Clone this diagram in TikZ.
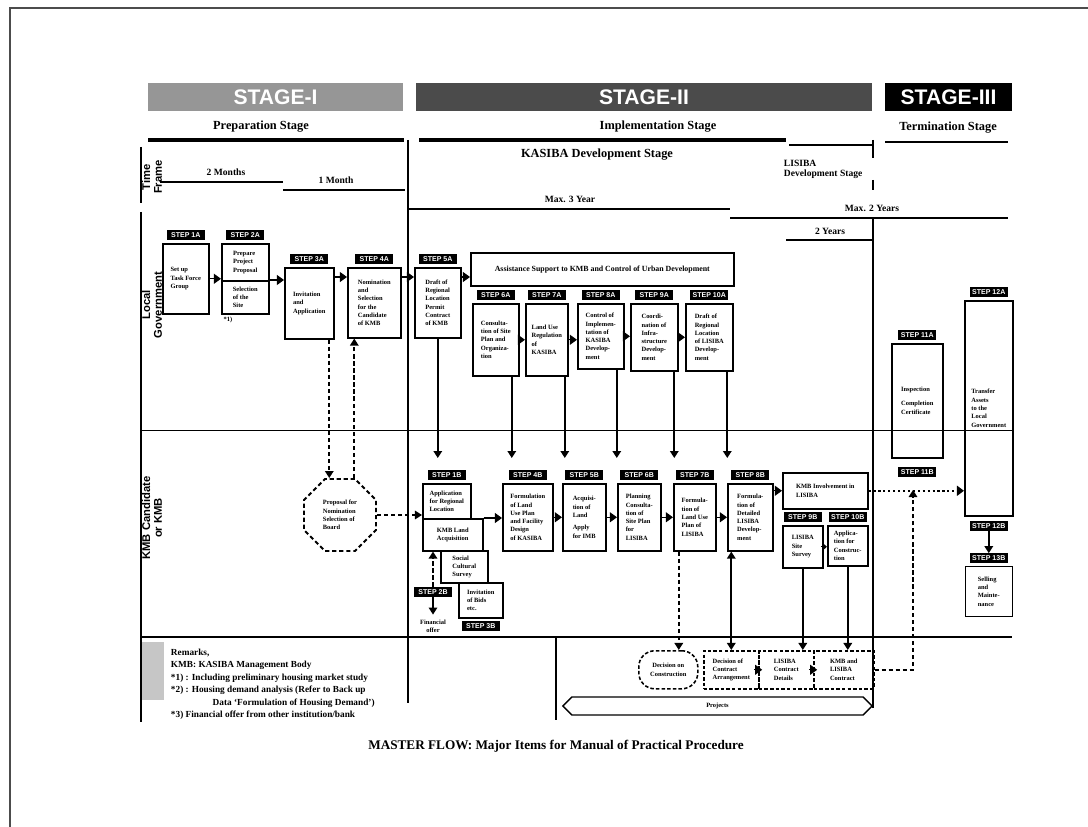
\documentclass[tikz,border=0pt]{standalone}
\usepackage{fontspec}
\setmainfont{Liberation Serif}
\setsansfont{Liberation Sans}
\usetikzlibrary{shapes.geometric,shapes.symbols,arrows.meta,positioning}
\definecolor{stagegray}{RGB}{150,150,150}
\definecolor{stagedark}{RGB}{75,75,75}
\newcommand{\boxfont}{\fontsize{4.6}{5.9}\selectfont\bfseries}
\newcommand{\tagfont}{\sffamily\fontsize{5}{5}\selectfont\bfseries}
\newcommand{\capfont}{\fontsize{8.8}{8.8}\selectfont\bfseries}
\newcommand{\timefont}{\fontsize{6.8}{7}\selectfont\bfseries}
\tikzset{
    stepbox/.style={
        rectangle,
        draw=black,
        line width=1.1pt,
        anchor=north west,
        align=left,
        inner sep=1.5pt,
        font=\boxfont
    },
    steptag/.style={
        rectangle,
        fill=black,
        text=white,
        inner sep=0.8pt,
        minimum width=0.95cm,
        minimum height=0.25cm,
        font=\tagfont
    },
    stagebar/.style={
        rectangle,
        minimum height=0.7cm,
        text=white,
        font=\sffamily\fontsize{15}{15}\selectfont\bfseries
    },
    rowlabel/.style={
        rotate=90,
        align=center,
        font=\sffamily\fontsize{8}{8.4}\selectfont\bfseries
    },
    flow/.style={
        -{Triangle[length=5pt,width=6pt]},
        line width=1.6pt
    },
    dashflow/.style={
        flow,
        dash pattern=on 3pt off 2pt
    },
    notch/.style={
        -{Triangle[length=5pt,width=7pt]},
        line width=0.8pt
    },
    timeline/.style={
        line width=1.6pt
    },
    dashbox/.style={
        stepbox,
        dash pattern=on 2.5pt off 1.5pt
    }
}

\begin{document}
\begin{tikzpicture}[x=0.025cm, y=-0.025cm, node distance=0.06cm]
\useasboundingbox (0,0) rectangle (1088,827);
\draw[line width=0.8pt, black!70] (10,827) -- (10,8) -- (1088,8);

% Stage headers
\node[stagebar, fill=stagegray, minimum width=6.375cm] (st1) at (275.5,97) {STAGE-I};
\node[stagebar, fill=stagedark, minimum width=11.4cm] (st2) at (644,97) {STAGE-II};
\node[stagebar, fill=black, minimum width=3.175cm] (st3) at (948.5,97) {STAGE-III};

\node[font=\capfont] (prep) at (261,127) {Preparation Stage};
\node[font=\capfont] (impl) at (658,127) {Implementation Stage};
\node[font=\capfont] (term) at (948,128) {Termination Stage};
\draw[line width=2.5pt] (148,140) -- (404,140);
\draw[line width=2.5pt] (419,140) -- (786,140);
\draw[line width=2pt] (789,145) -- (873,145);
\draw[line width=1.5pt] (885,142) -- (1008,142);

% Time frame
\node[font=\capfont] (kasiba) at (597,155) {KASIBA Development Stage};
\node[font=\timefont, align=left, anchor=north west] (lisiba) at (779,155) {LISIBA\\Development Stage};
\node[font=\timefont] (m2) at (226,172) {2 Months};
\draw[timeline] (160,182) -- (283,182);
\node[font=\timefont] (m1) at (336,180) {1 Month};
\draw[timeline] (283,190) -- (405,190);
\node[font=\timefont] (y3) at (570,199) {Max. 3 Year};
\draw[timeline] (409,209) -- (730,209);
\node[font=\timefont] (y2) at (872,208) {Max. 2 Years};
\draw[timeline] (730,218) -- (1008,218);
\node[font=\timefont] (ly2) at (830,231) {2 Years};
\draw[timeline] (786,240) -- (873,240);

% Dividers
\draw[line width=2pt] (408,140) -- (408,703);
\draw[line width=1.5pt] (873,140) -- (873,158);
\draw[line width=1.5pt] (873,180) -- (873,190);
\draw[line width=1.5pt] (873,218) -- (873,708);
\draw[line width=1.8pt] (556,637) -- (556,720);
\draw[line width=0.6pt] (141,430) -- (1012,430);
\draw[line width=1pt] (141,637) -- (1012,637);

% Row labels
\draw[line width=0.8pt] (141,147) -- (141,203);
\draw[line width=0.8pt] (141,212) -- (141,722);
\node[rowlabel] (tf) at (152,177) {Time\\Frame};
\node[rowlabel] (lg) at (152,305) {Local\\Government};
\node[rowlabel] (kmb) at (152,518) {KMB Candidate\\or KMB};
\node[fill=gray!45, minimum width=0.55cm, minimum height=1.45cm] (oth) at (153,671) {};

% Local Government
\node[stepbox, minimum width=1.15cm, minimum height=1.75cm] (s1a) at (162,243) {Set up\\Task Force\\Group};
\node[steptag, above=of s1a] (t1a) {STEP 1A};
\node[stepbox, minimum width=1.175cm, minimum height=0.925cm] (s2a) at (221,243) {Prepare\\Project\\Proposal};
\node[stepbox, minimum width=1.175cm, minimum height=0.825cm] (s2a-site) at (221,280) {Selection\\of the\\Site};
\node[steptag, above=of s2a] (t2a) {STEP 2A};
\node[font=\boxfont] (n1) at (228,320) {*1)};
\node[stepbox, minimum width=1.225cm, minimum height=1.775cm] (s3a) at (284,267) {Invitation\\and\\Application};
\node[steptag, above=of s3a] (t3a) {STEP 3A};
\node[stepbox, minimum width=1.325cm, minimum height=1.75cm] (s4a) at (347,267) {Nomination\\and\\Selection\\for the\\Candidate\\of KMB};
\node[steptag, above=of s4a] (t4a) {STEP 4A};
\node[stepbox, minimum width=1.15cm, minimum height=1.75cm] (s5a) at (414,267) {Draft of\\Regional\\Location\\Permit\\Contract\\of KMB};
\node[steptag, above=of s5a] (t5a) {STEP 5A};
\node[stepbox, minimum width=6.575cm, minimum height=0.825cm, font=\fontsize{5.6}{6}\selectfont\bfseries, align=center] (assist) at (470,252) {Assistance Support to KMB and Control of Urban Development};

\node[stepbox, minimum width=1.15cm, minimum height=1.8cm] (s6a) at (472,303) {Consulta-\\tion of Site\\Plan and\\Organiza-\\tion};
\node[steptag, above=of s6a] (t6a) {STEP 6A};
\node[stepbox, minimum width=1.05cm, minimum height=1.8cm] (s7a) at (525,303) {Land Use\\Regulation\\of\\KASIBA};
\node[steptag, above=of s7a] (t7a) {STEP 7A};
\node[stepbox, minimum width=1.15cm, minimum height=1.625cm] (s8a) at (577,303) {Control of\\Implemen-\\tation of\\KASIBA\\Develop-\\ment};
\node[steptag, above=of s8a] (t8a) {STEP 8A};
\node[stepbox, minimum width=1.175cm, minimum height=1.675cm] (s9a) at (630,303) {Coordi-\\nation of\\Infra-\\structure\\Develop-\\ment};
\node[steptag, above=of s9a] (t9a) {STEP 9A};
\node[stepbox, minimum width=1.175cm, minimum height=1.675cm] (s10a) at (685,303) {Draft of\\Regional\\Location\\of LISIBA\\Develop-\\ment};
\node[steptag, above=of s10a] (t10a) {STEP 10A};

\draw[notch] (s1a.east) -- (s1a.east -| s2a.west);
\draw[notch] (s2a-site.north east) -- (s2a-site.north east -| s3a.west);
\draw[notch] ([yshift=-0.25cm]s3a.north east) -- ([yshift=-0.25cm]s3a.north east -| s4a.west);
\draw[notch] ([yshift=-0.25cm]s4a.north east) -- ([yshift=-0.25cm]s4a.north east -| s5a.west);
\draw[notch] ([yshift=-0.25cm]s5a.north east) -- ([yshift=-0.25cm]s5a.north east -| assist.west);
\foreach \a/\b in {s6a/s7a, s7a/s8a, s8a/s9a, s9a/s10a}
    \draw[notch] (\a.east) -- (\a.east -| \b.west);

% KMB Candidate or KMB
\node[stepbox, minimum width=1.2cm, minimum height=0.875cm] (s1b) at (422,483) {Application\\for Regional\\Location};
\node[steptag, above=of s1b] (t1b) {STEP 1B};
\node[stepbox, minimum width=1.5cm, minimum height=0.8cm] (s1b-land) at (422,518) {KMB Land\\Acquisition};
\node[stepbox, minimum width=1.175cm, minimum height=0.8cm] (s2b) at (440,550) {Social\\Cultural\\Survey};
\node[steptag] (t2b) at (433,592) {STEP 2B};
\node[stepbox, minimum width=1.1cm, minimum height=0.875cm] (s3b) at (458,582) {Invitation\\of Bids\\etc.};
\node[steptag, below=of s3b] (t3b) {STEP 3B};
\node[font=\boxfont, align=center] (fin) at (433,626) {Financial\\offer};

\node[stepbox, minimum width=1.25cm, minimum height=1.675cm] (s4b) at (502,483) {Formulation\\of Land\\Use Plan\\and Facility\\Design\\of KASIBA};
\node[steptag, above=of s4b] (t4b) {STEP 4B};
\node[stepbox, minimum width=1.075cm, minimum height=1.675cm] (s5b) at (562,483) {Acquisi-\\tion of\\Land\\[3pt]Apply\\for IMB};
\node[steptag, above=of s5b] (t5b) {STEP 5B};
\node[stepbox, minimum width=1.075cm, minimum height=1.675cm] (s6b) at (617,483) {Planning\\Consulta-\\tion of\\Site Plan\\for\\LISIBA};
\node[steptag, above=of s6b] (t6b) {STEP 6B};
\node[stepbox, minimum width=1.05cm, minimum height=1.675cm] (s7b) at (673,483) {Formula-\\tion of\\Land Use\\Plan of\\LISIBA};
\node[steptag, above=of s7b] (t7b) {STEP 7B};
\node[stepbox, minimum width=1.125cm, minimum height=1.675cm] (s8b) at (727,483) {Formula-\\tion of\\Detailed\\LISIBA\\Develop-\\ment};
\node[steptag, above=of s8b] (t8b) {STEP 8B};
\node[stepbox, minimum width=2.125cm, minimum height=0.9cm] (kmbl) at (782,472) {KMB Involvement in\\LISIBA};
\node[stepbox, minimum width=1cm, minimum height=1.05cm] (s9b) at (782,525) {LISIBA\\Site\\Survey};
\node[steptag, above=of s9b] (t9b) {STEP 9B};
\node[stepbox, minimum width=1cm, minimum height=1cm] (s10b) at (827,525) {Applica-\\tion for\\Construc-\\tion};
\node[steptag, above=of s10b] (t10b) {STEP 10B};

\draw[notch] (s1b-land.north east) -- (s1b-land.north east -| s4b.west);
\foreach \a/\b in {s4b/s5b, s5b/s6b, s6b/s7b, s7b/s8b}
    \draw[notch] (\a.east) -- (\a.east -| \b.west);
\draw[notch] (kmbl.west -| s8b.east) -- (kmbl.west);
\draw[-{Triangle[length=3pt,width=5pt]}, line width=0.8pt] ([xshift=-2pt]s9b.east) -- (s9b.east -| s10b.west);
\draw[dashflow] (t2b.north) -- (t2b.north |- s1b-land.south);
\draw[flow, line width=1.2pt] (t2b.south) -- (t2b.south |- fin.north);

% Proposal of board
\node[regular polygon, regular polygon sides=8, draw, line width=1.3pt, dash pattern=on 3pt off 2pt, minimum size=1.95cm, inner sep=0pt, align=left, font=\boxfont] (nom) at (340,515) {Proposal for\\Nomination\\Selection of\\Board};
\draw[dashflow] ([xshift=0.5cm]s3a.south) -- ([xshift=0.5cm]s3a.south |- nom.north);
\draw[dashflow] ([xshift=-0.5cm]s4a.south |- nom.north) -- ([xshift=-0.5cm]s4a.south);
\draw[dashflow] (nom.east) -- (nom.east -| s1b.west);

% Local Government to KMB
\draw[flow, shorten >=0.3cm] (s5a.south) -- (s5a.south |- t1b.north);
\draw[flow, shorten >=0.3cm] ([xshift=0.4cm]s6a.south) -- ([xshift=0.4cm]s6a.south |- t4b.north);
\draw[flow, shorten >=0.3cm] ([xshift=0.45cm]s7a.south) -- ([xshift=0.45cm]s7a.south |- t5b.north);
\draw[flow, shorten >=0.3cm] ([xshift=0.4cm]s8a.south) -- ([xshift=0.4cm]s8a.south |- t6b.north);
\draw[flow, shorten >=0.3cm] ([xshift=0.5cm]s9a.south) -- ([xshift=0.5cm]s9a.south |- t7b.north);
\draw[flow, shorten >=0.3cm] ([xshift=0.45cm]s10a.south) -- ([xshift=0.45cm]s10a.south |- t8b.north);

% Termination
\node[stepbox, minimum width=1.275cm, minimum height=2.85cm] (s11a) at (891,343) {Inspection\\[4pt]Completion\\Certificate};
\node[steptag, above=of s11a] (t11a) {STEP 11A};
\node[steptag, below=0.2cm of s11a] (t11b) {STEP 11B};
\node[stepbox, minimum width=1.2cm, minimum height=5.375cm] (s12a) at (964,300) {Transfer\\Assets\\to the\\Local\\Government};
\node[steptag, above=of s12a] (t12a) {STEP 12A};
\node[steptag, below=0.1cm of s12a] (t12b) {STEP 12B};
\node[steptag, below=0.55cm of t12b] (t13b) {STEP 13B};
\node[stepbox, minimum width=1.175cm, minimum height=1.25cm, below=0.05cm of t13b, anchor=north] (s13b) {Selling\\and\\Mainte-\\nance};
\draw[flow, line width=1.3pt] (t12b.south) -- (t13b.north);
\draw[-{Triangle[length=5pt,width=7pt]}, line width=1.5pt, dotted] (kmbl.east) -- (kmbl.east -| s12a.west);

% Other parties
\node[dashbox, rounded corners=0.4cm, align=center, minimum width=1.475cm, minimum height=0.95cm] (dec) at (638,650) {Decision on\\Construction};
\node[dashbox, minimum width=1.375cm, minimum height=0.95cm] (b1) at (703,650) {Decision of\\Contract\\Arrangement};
\node[dashbox, minimum width=1.375cm, minimum height=0.95cm] (b2) at (758,650) {LISIBA\\Contract\\Details};
\node[dashbox, minimum width=1.5cm, minimum height=0.95cm] (b3) at (813,650) {KMB and\\LISIBA\\Contract};
\draw[notch] ([xshift=-3pt]b2.west) -- ([xshift=3pt]b2.west);
\draw[notch] ([xshift=-3pt]b3.west) -- ([xshift=3pt]b3.west);
\draw[dashflow] ([xshift=-0.4cm]s7b.south) -- ([xshift=-0.4cm]s7b.south |- dec.north);
\draw[{Triangle[length=5pt,width=6pt]}-{Triangle[length=5pt,width=6pt]}, line width=1.6pt] (b1.north |- s8b.south) -- (b1.north);
\draw[flow] (s9b.south) -- (s9b.south |- b2.north);
\draw[flow] (s10b.south) -- (s10b.south |- b3.north);
\coordinate (meet) at (913,490);
\draw[dashflow] (b3.east) -| (meet);
\node[signal, signal to=east and west, draw, line width=1pt, minimum width=7.725cm, minimum height=0.45cm, font=\boxfont] (proj) at (717.5,706) {Projects};

% Remarks and title
\node[anchor=north west, align=left, font=\fontsize{6.6}{8.9}\selectfont\bfseries] (rem) at (166,644) {Remarks,\\KMB: KASIBA Management Body\\*1) : Including preliminary housing market study\\*2) : Housing demand analysis (Refer to Back up\\\hspace{4.5em}Data `Formulation of Housing Demand')\\*3) Financial offer from other institution/bank};
\node[font=\fontsize{9.4}{9.4}\selectfont\bfseries] (title) at (556,746) {MASTER FLOW: Major Items for Manual of Practical Procedure};
\end{tikzpicture}
\end{document}
